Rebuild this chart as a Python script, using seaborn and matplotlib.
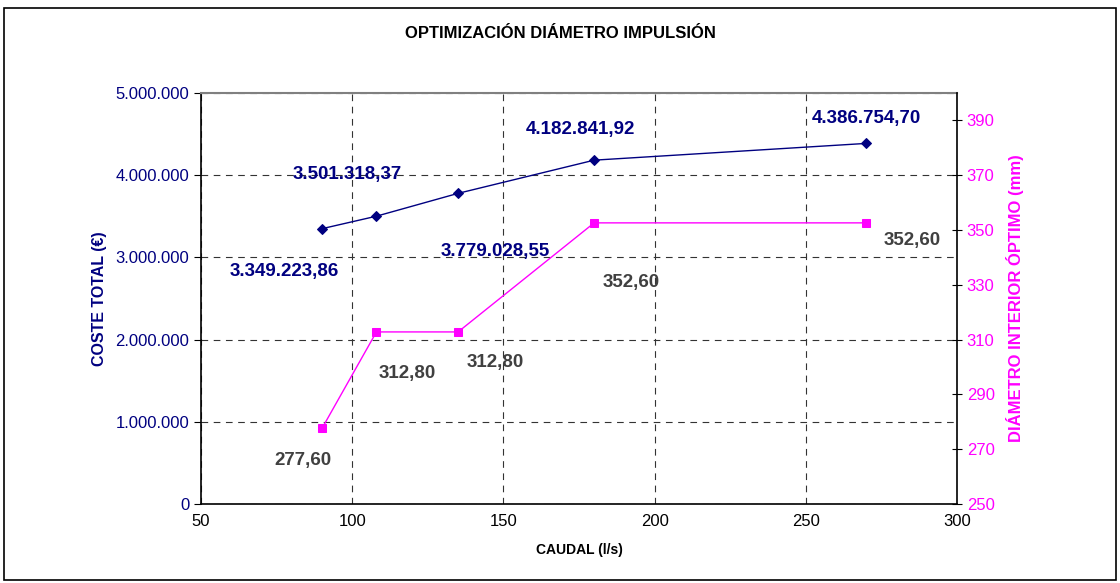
import matplotlib
matplotlib.use("Agg")
import matplotlib.pyplot as plt
import matplotlib.ticker as mticker
import pandas as pd
import seaborn as sns

# data
caudal = [90, 108, 135, 180, 270]
coste_total = [3349223.86, 3501318.37, 3779028.55, 4182841.92, 4386754.70]
diametro = [277.60, 312.80, 312.80, 352.60, 352.60]
coste_labels = ["3.349.223,86", "3.501.318,37", "3.779.028,55", "4.182.841,92", "4.386.754,70"]
diam_labels = ["277,60", "312,80", "312,80", "352,60", "352,60"]

NAVY = "#000080"
PINK = "#FF00FF"
GREY = "#404040"

sns.set_style("white")
plt.rcParams["font.family"] = ["Liberation Sans", "DejaVu Sans"]
plt.rcParams["text.color"] = "black"

df = pd.DataFrame({"caudal": caudal, "coste": coste_total, "diam": diametro})


def thousands(v, pos):
    return "{:,.0f}".format(v).replace(",", ".")


fig = plt.figure(figsize=(11.2, 5.83), dpi=100)
ax = fig.add_axes([0.1795, 0.1355, 0.675, 0.7050])
ax2 = ax.twinx()

sns.lineplot(data=df, x="caudal", y="coste", ax=ax, color=NAVY, lw=1,
             marker="D", markersize=5, markeredgecolor=NAVY)
sns.lineplot(data=df, x="caudal", y="diam", ax=ax2, color=PINK, lw=1,
             marker="s", markersize=6, markeredgecolor=PINK)

ax.set_xlim(50, 300)
ax.set_ylim(0, 5000000)
ax2.set_ylim(250, 400)
ax.set_xticks(range(50, 301, 50))
ax.set_yticks(range(0, 5000001, 1000000))
ax2.set_yticks(range(250, 391, 20))
ax.yaxis.set_major_formatter(mticker.FuncFormatter(thousands))

ax.grid(True, color="#333333", ls=(0, (6, 5)), lw=0.8)
ax.set_axisbelow(True)

for sp in ["left", "bottom"]:
    ax.spines[sp].set_color("black")
    ax.spines[sp].set_linewidth(1.2)
ax.spines["top"].set_color("#808080")
ax.spines["top"].set_linewidth(1.5)
ax.spines["right"].set_visible(False)
ax2.spines["right"].set_color("black")
ax2.spines["right"].set_linewidth(1.2)
for sp in ["left", "top", "bottom"]:
    ax2.spines[sp].set_visible(False)

ax.tick_params(axis="y", direction="out", length=5, colors="black",
               labelcolor=NAVY, labelsize=12)
ax.tick_params(axis="x", direction="inout", length=7, colors="black",
               labelcolor="black", labelsize=12)
ax2.tick_params(axis="y", direction="inout", length=7, colors="black",
                labelcolor=PINK, labelsize=12)

ax.set_xlabel("CAUDAL (l/s)", fontsize=10, fontweight="bold", labelpad=10, color="black")
ax.set_ylabel("COSTE TOTAL (€)", fontsize=11.5, fontweight="bold", color=NAVY, labelpad=6)
ax2.set_ylabel("DIÁMETRO INTERIOR ÓPTIMO (mm)", fontsize=12, fontweight="bold",
               color=PINK, labelpad=8)

# data labels (offsets in points)
coste_off = [(-27, -31), (-21, 30), (27, -42), (-10, 22), (0, 18)]
for x, y, t, (dx, dy) in zip(caudal, coste_total, coste_labels, coste_off):
    ax.annotate(t, (x, y), xytext=(dx, dy), textcoords="offset points",
                ha="center", va="center", fontsize=13.5, fontweight="bold", color=NAVY)
diam_off = [(-14, -23), (22, -30), (27, -22), (27, -43), (33, -13)]
for x, y, t, (dx, dy) in zip(caudal, diametro, diam_labels, diam_off):
    ax2.annotate(t, (x, y), xytext=(dx, dy), textcoords="offset points",
                 ha="center", va="center", fontsize=13.5, fontweight="bold", color=GREY)

fig.text(0.5, 0.943, "OPTIMIZACIÓN DIÁMETRO IMPULSIÓN", ha="center", va="center",
         fontsize=12, fontweight="bold", color="black")

fig.patches.append(plt.Rectangle((0.004, 0.005), 0.992, 0.982, transform=fig.transFigure,
                                 fill=False, edgecolor="black", lw=1.2))

fig.savefig("out.png", dpi=100)
